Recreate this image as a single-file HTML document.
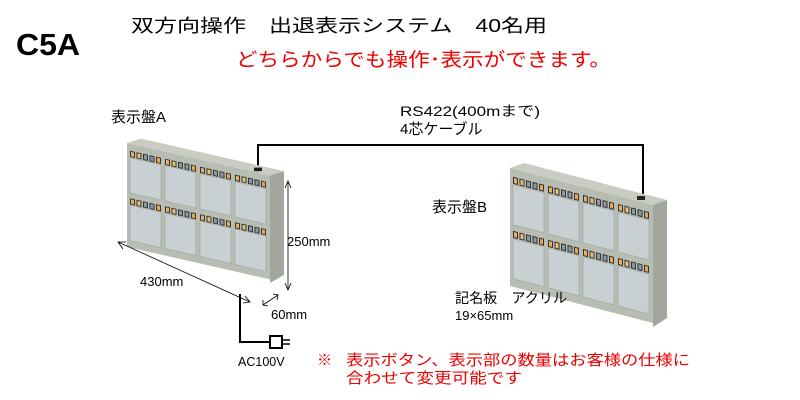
<!DOCTYPE html>
<html><head><meta charset="utf-8"><style>
html,body{margin:0;padding:0;background:#fff;width:800px;height:400px;overflow:hidden}
svg{display:block}
text{font-family:"Liberation Sans","Noto Sans CJK JP",sans-serif}
</style></head><body>
<svg width="800" height="400" viewBox="0 0 800 400" xmlns="http://www.w3.org/2000/svg">
<defs>
<g id="btn5">
 <rect x="0" y="0" width="5" height="7" fill="#333"/><rect x="1" y="1" width="3" height="5" fill="#e8b060"/>
 <rect x="6.5" y="0" width="5" height="7" fill="#333"/><rect x="7.5" y="1" width="3" height="5" fill="#f0c070"/>
 <rect x="13" y="0" width="5" height="7" fill="#333"/><rect x="14" y="1" width="3" height="5" fill="#8a9aa8"/>
 <rect x="19.5" y="0" width="5" height="7" fill="#333"/><rect x="20.5" y="1" width="3" height="5" fill="#8a9aa8"/>
 <rect x="26" y="0" width="5" height="7" fill="#333"/><rect x="27" y="1" width="3" height="5" fill="#e8a850"/>
</g>
<g id="col">
 <use href="#btn5" y="8"/>
 <rect x="0" y="16" width="31" height="40" fill="#c8d0d3" stroke="#a4aba2" stroke-width="0.8"/>
 <use href="#btn5" y="62"/>
 <rect x="0" y="70" width="31" height="40" fill="#c8d0d3" stroke="#a4aba2" stroke-width="0.8"/>
</g>
<g id="panel">
 <polygon points="0,0 14,-5 157,32 143,37" fill="#c8ccc2"/>
 <polygon points="143,37 157,32 157,150 143,159" fill="#a2a79e"/>
 <g transform="matrix(1,0.259,0,1,0,0)">
  <rect x="0" y="0" width="143" height="118" fill="#b7bdb2"/>
  <use href="#col" x="3"/>
  <use href="#col" x="38"/>
  <use href="#col" x="73"/>
  <use href="#col" x="108"/>
 </g>
 <rect x="127" y="28" width="8" height="4" fill="#222"/>
</g>
</defs>

<text x="16" y="55" font-size="31" font-weight="bold" fill="#000" textLength="64" lengthAdjust="spacingAndGlyphs">C5A</text>
<text x="131" y="32" font-size="18" fill="#000" textLength="416" lengthAdjust="spacingAndGlyphs">双方向操作　出退表示システム　40名用</text>
<text x="236" y="66" font-size="19" fill="#e00" textLength="375" lengthAdjust="spacingAndGlyphs">どちらからでも操作･表示ができます。</text>

<polyline points="258,178 258,145 643,145 643,205" fill="none" stroke="#000" stroke-width="2"/>

<use href="#panel" transform="translate(127,143) scale(1,0.88)"/>
<use href="#panel" x="510" y="168"/>

<polyline points="240,294 240,342 270,342" fill="none" stroke="#000" stroke-width="2"/>
<rect x="270" y="336" width="12" height="12" fill="#fff" stroke="#000" stroke-width="2"/>
<line x1="282" y1="340" x2="290" y2="340" stroke="#000" stroke-width="1.5"/>
<line x1="282" y1="344" x2="290" y2="344" stroke="#000" stroke-width="1.5"/>

<g stroke="#000" stroke-width="0.8" fill="none">
 <line x1="118" y1="242" x2="250" y2="302"/>
 <polyline points="126,242 118,242 123,249"/>
 <polyline points="243,303 250,302 245,296"/>
 <line x1="288" y1="181" x2="288" y2="290"/>
 <polyline points="285,188 288,181 291,188"/>
 <polyline points="285,283 288,290 291,283"/>
 <line x1="263" y1="305" x2="278" y2="295"/>
 <polyline points="263,300 263,305 268,306"/>
 <polyline points="273,294 278,295 277,300"/>
</g>

<text x="111" y="122" font-size="15" fill="#000">表示盤A</text>
<text x="400" y="116" font-size="14" fill="#000" textLength="140" lengthAdjust="spacingAndGlyphs">RS422(400mまで)</text>
<text x="400" y="134" font-size="15" fill="#000">4芯ケーブル</text>
<text x="432" y="212" font-size="15" fill="#000">表示盤B</text>
<text x="287" y="246" font-size="13" fill="#000">250mm</text>
<text x="140" y="286" font-size="13" fill="#000">430mm</text>
<text x="271" y="319" font-size="13" fill="#000">60mm</text>
<text x="238" y="366" font-size="12.5" fill="#000">AC100V</text>
<text x="455" y="303" font-size="14" fill="#000" textLength="112" lengthAdjust="spacingAndGlyphs">記名板　アクリル</text>
<text x="455" y="320" font-size="13" fill="#000">19×65mm</text>
<text x="317" y="365" font-size="15" fill="#e00">※</text>
<text x="346" y="365" font-size="15" fill="#e00" textLength="344" lengthAdjust="spacingAndGlyphs">表示ボタン、表示部の数量はお客様の仕様に</text>
<text x="346" y="383" font-size="15" fill="#e00" textLength="176" lengthAdjust="spacingAndGlyphs">合わせて変更可能です</text>
</svg>
</body></html>
